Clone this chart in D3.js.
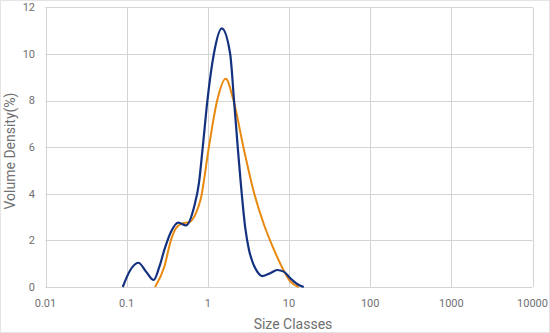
<!DOCTYPE html>
<html>
<head>
<meta charset="utf-8">
<script src="https://cdn.jsdelivr.net/npm/d3@7"></script>
<style>
  html, body { margin: 0; padding: 0; background: #fff; }
  svg { display: block; font-family: Roboto, "Noto Sans", sans-serif; }
</style>
</head>
<body>
<div id="chart"></div>
<script>
// Particle size distribution: two volume-density curves over log size classes
const xTicks = [0.01, 0.1, 1, 10, 100, 1000, 10000];
const xTickLabels = ["0.01", "0.1", "1", "10", "100", "1000", "10000"];
const yTicks = [0, 2, 4, 6, 8, 10, 12];

const blueSize = [0.0895, 0.111, 0.1396, 0.173, 0.215, 0.253, 0.291, 0.352, 0.433, 0.537, 0.679, 0.78, 0.859, 0.99, 1.19, 1.485, 1.88, 2.10, 2.35, 2.54, 2.9, 3.21, 3.53, 4.06, 4.7, 5.93, 7.14, 8.63, 10.4, 12.6, 15.2];
const blueValue = [0, 0.73, 1.04, 0.66, 0.30, 0.87, 1.59, 2.37, 2.76, 2.64, 3.45, 4.5, 5.88, 8.03, 10.03, 11.1, 10.03, 8.03, 5.88, 4.5, 2.5, 1.6, 1.1, 0.66, 0.47, 0.6, 0.73, 0.66, 0.37, 0.13, 0];

const orangeSize = [0.224, 0.291, 0.352, 0.405, 0.488, 0.59, 0.712, 0.82, 1.04, 1.31, 1.66, 2.06, 2.79, 3.70, 4.91, 6.38, 8.63, 10.4, 13.2];
const orangeValue = [0, 0.87, 2.02, 2.52, 2.73, 2.78, 3.16, 3.8, 6.1, 8.03, 8.93, 8.03, 5.88, 4.05, 2.68, 1.68, 0.7, 0.23, 0];

const W = 550, H = 333;
const svg = d3.select("#chart").append("svg").attr("width", W).attr("height", H);

// outer frame
svg.append("rect").attr("x", 0.5).attr("y", 0.5).attr("width", W - 1).attr("height", H - 1)
  .attr("fill", "#fff").attr("stroke", "#e4e4e4");

const x = d3.scaleLog().domain([0.01, 10000]).range([45.5, 532.5]);
const y = d3.scaleLinear().domain([0, 12]).range([287, 7.3]);

const grid = "#d4d4d4";
const labelColor = "#707070";

// horizontal grid
svg.append("g").selectAll("line").data(yTicks).join("line")
  .attr("x1", x(0.01)).attr("x2", x(10000))
  .attr("y1", d => Math.round(y(d)) + 0.5).attr("y2", d => Math.round(y(d)) + 0.5)
  .attr("stroke", grid).attr("stroke-width", 1);

// vertical grid
svg.append("g").selectAll("line").data(xTicks).join("line")
  .attr("x1", d => Math.round(x(d)) + 0.5).attr("x2", d => Math.round(x(d)) + 0.5)
  .attr("y1", y(12)).attr("y2", y(0))
  .attr("stroke", grid).attr("stroke-width", 1);

// y tick labels
svg.append("g").selectAll("text").data(yTicks).join("text")
  .attr("x", 35).attr("y", d => y(d)).attr("dy", "0.35em")
  .attr("text-anchor", "end").attr("font-size", 11).attr("fill", labelColor)
  .text(d => d);

// x tick labels
svg.append("g").selectAll("text").data(xTicks).join("text")
  .attr("x", d => x(d)).attr("y", 303).attr("dy", "0.35em")
  .attr("text-anchor", "middle").attr("font-size", 11).attr("fill", labelColor)
  .text((d, i) => xTickLabels[i]);

// axis titles
svg.append("text").attr("x", 293).attr("y", 324).attr("dy", "0.35em")
  .attr("text-anchor", "middle").attr("font-size", 14).attr("fill", labelColor)
  .text("Size Classes");
svg.append("text").attr("transform", "translate(10,151) rotate(-90)").attr("dy", "0.35em")
  .attr("text-anchor", "middle").attr("font-size", 14).attr("fill", labelColor)
  .text("Volume Density(%)");

const line = d3.line().x(d => x(d[0])).y(d => y(d[1])).curve(d3.curveMonotoneX);

svg.append("path").datum(orangeSize.map((s, i) => [s, orangeValue[i]]))
  .attr("d", line).attr("fill", "none").attr("stroke", "#e8890f").attr("stroke-width", 2);
svg.append("path").datum(blueSize.map((s, i) => [s, blueValue[i]]))
  .attr("d", line).attr("fill", "none").attr("stroke", "#13317f").attr("stroke-width", 2.2);
</script>
</body>
</html>
